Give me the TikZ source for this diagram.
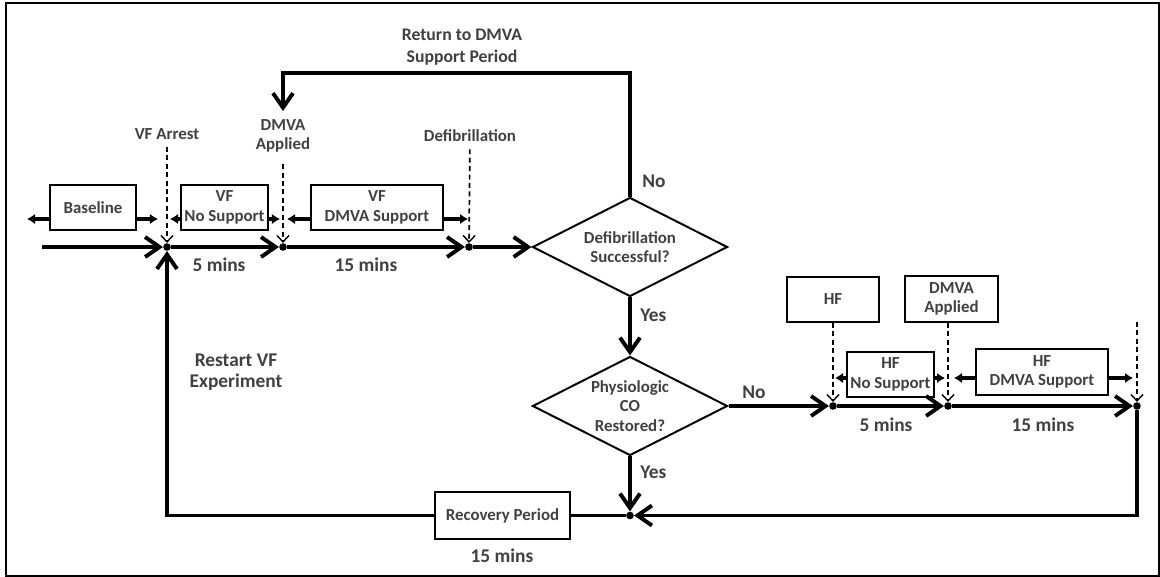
\documentclass[tikz,border=0pt]{standalone}
\usepackage{fontspec}
\setmainfont{Carlito}
\usetikzlibrary{arrows.meta,shapes.geometric,calc,positioning}
\definecolor{txtgray}{RGB}{64,64,64}
\newcommand{\txtsmall}{\bfseries\fontsize{12}{14}\selectfont}
\newcommand{\txthead}{\bfseries\fontsize{12.6}{15.5}\selectfont}
\newcommand{\txtbig}{\bfseries\fontsize{13.8}{15}\selectfont}
\tikzset{
    block/.style = {draw, rectangle, line width=1.4pt, align=center, inner sep=0pt,
        minimum width=2.15cm, minimum height=1.125cm, text=txtgray, font=\txtsmall},
    decision/.style = {draw, diamond, aspect=2, line width=1.4pt, align=center, inner sep=-4pt,
        minimum width=4.875cm, minimum height=2.475cm, text=txtgray, font=\txtsmall},
    dot/.style = {circle, fill, inner sep=0pt, minimum size=1.9mm},
    flow/.style = {draw, line width=2.8pt, -{Straight Barb[length=3.6mm,width=5mm]}},
    plain/.style = {draw, line width=2.8pt},
    side/.style = {draw, line width=2.4pt, -{Latex[length=2mm,width=2.6mm]}},
    eventline/.style = {draw, line width=1.2pt, dash pattern=on 3.5pt off 2.5pt,
        -{Straight Barb[length=1.6mm,width=3mm,line width=1pt]}},
    lbl/.style = {text=txtgray, font=\txtsmall, align=center, inner sep=0pt},
    biglbl/.style = {text=txtgray, font=\txtbig, align=center, inner sep=0pt}
}

\begin{document}
\begin{tikzpicture}[x=0.025cm, y=-0.025cm]
\useasboundingbox (0,0) rectangle (1160,577);
\draw[line width=1.4pt] (6,3) rectangle (1159,576);

% VF timeline
\coordinate (start) at (42,247);
\node[dot] (arrest) at (167,247) {};
\node[dot] (vfapplied) at (283,247) {};
\node[dot] (shock) at (469,247) {};
\node[decision] (defib) at (630,247) {Defibrillation\\Successful?};

\node[block] (baseline) at (93,207.5) {Baseline};
\node[block, minimum width=2.175cm] (vfns) at (224.5,207.5) {VF\\No Support};
\node[block, minimum width=3.3cm] (vfds) at (377,207.5) {VF\\DMVA Support};

\node[lbl] (arrestlbl) at (167,134) {VF Arrest};
\node[lbl] (appliedlbl) at (283,136) {DMVA\\Applied};
\node[lbl] (shocklbl) at (470,136) {Defibrillation};
\draw[eventline, shorten <=5pt] (arrestlbl) -- (arrest);
\draw[eventline, shorten <=8pt] (appliedlbl) -- (vfapplied);
\draw[eventline, shorten <=5pt] (shocklbl) -- (shock);

\draw[flow] (start) -- (arrest);
\draw[flow] (arrest) -- (vfapplied);
\draw[flow] (vfapplied) -- (shock);
\draw[flow] (shock) -- (defib);

\draw[side] ($(baseline.west)+(0,11.5)$) -- ++(-22,0);
\draw[side] ($(baseline.east)+(0,11.5)$) -- ++(21,0);
\draw[side] ($(vfns.west)+(0,11.5)$) -- ++(-10,0);
\draw[side] ($(vfns.east)+(0,11.5)$) -- ++(11,0);
\draw[side] ($(vfds.west)+(0,11.5)$) -- ++(-23,0);
\draw[side] ($(vfds.east)+(0,11.5)$) -- ++(24,0);

\node[biglbl] (vfnstime) at (219,265) {5 mins};
\node[biglbl] (vfdstime) at (366,265) {15 mins};

% back to DMVA support
\coordinate (backtop) at (283,73);
\coordinate (back) at (283,111);
\draw[flow] (defib.north) |- (backtop) -- (back);
\node[biglbl, font=\txthead] (returnlbl) at (462,47) {Return to DMVA\\Support Period};
\node[biglbl] (nolbl) at (654,181) {No};

% CO check
\node[decision] (physio) at (630,406) {Physiologic\\CO\\Restored?};
\draw[flow] (defib) -- (physio);
\node[biglbl, anchor=west] (yeslbl) at (640,315) {Yes};
\node[dot] (merge) at (630,515.5) {};
\draw[flow] (physio) -- (merge);
\node[biglbl, anchor=west] (yes2lbl) at (640,472) {Yes};

% recovery and restart
\node[block, minimum width=3.375cm, minimum height=1.175cm] (recovery) at (502.5,515.5) {Recovery Period};
\draw[plain] (merge) -- (recovery);
\draw[flow] (recovery) -| (arrest);
\node[biglbl] (rectime) at (502,556) {15 mins};
\node[biglbl] (restartlbl) at (236,372) {Restart VF\\Experiment};

% HF timeline
\node[dot] (hfon) at (833,406) {};
\node[dot] (hfapplied) at (948,406) {};
\node[dot] (hfend) at (1137,406) {};
\draw[flow] (physio) -- (hfon);
\node[biglbl] (no2lbl) at (754,392) {No};
\draw[flow] (hfon) -- (hfapplied);
\draw[flow] (hfapplied) -- (hfend);
\draw[flow] (hfend) |- (merge);

\node[block, minimum width=2.3cm] (hf) at (833,299.5) {HF};
\node[block, minimum width=2.325cm, minimum height=1.15cm] (hfdmva) at (951.5,299) {DMVA\\Applied};
\coordinate (hfendtop) at (1137,322);
\draw[eventline] (hf) -- (hfon);
\draw[eventline] (hfdmva.south -| hfapplied) -- (hfapplied);
\draw[eventline] (hfendtop) -- (hfend);

\node[block, minimum width=2.175cm] (hfns) at (890.5,374.5) {HF\\No Support};
\node[block, minimum width=3.3cm, minimum height=1.15cm] (hfds) at (1042,372) {HF\\DMVA Support};
\draw[side] ($(hfns.west)+(0,3.5)$) -- ++(-11,0);
\draw[side] ($(hfns.east)+(0,3.5)$) -- ++(10,0);
\draw[side] ($(hfds.west)+(0,6)$) -- ++(-21,0);
\draw[side] ($(hfds.east)+(0,6)$) -- ++(24,0);

\node[biglbl] (hfnstime) at (886,425) {5 mins};
\node[biglbl] (hfdstime) at (1043,425) {15 mins};
\end{tikzpicture}
\end{document}
